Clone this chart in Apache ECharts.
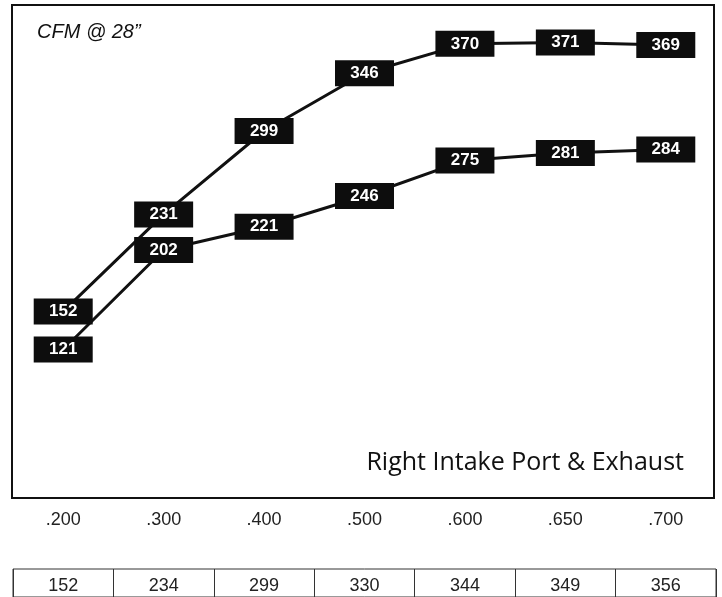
<!DOCTYPE html>
<html>
<head>
<meta charset="utf-8">
<title>CFM @ 28"</title>
<script src="https://cdn.jsdelivr.net/npm/echarts@6/dist/echarts.min.js"></script>
<style>
  html, body { margin: 0; padding: 0; background: #fff; }
  #chart { width: 722px; height: 597px; }
</style>
</head>
<body>
<div id="chart"></div>
<script>
// Valve lift points (inches)
const liftLabels = ['.200', '.300', '.400', '.500', '.600', '.650', '.700'];
// Intake port flow, CFM @ 28"
const intakeFlow = [152, 231, 299, 346, 370, 371, 369];
// Exhaust port flow, CFM @ 28"
const exhaustFlow = [121, 202, 221, 246, 275, 281, 284];
// Reference row under the chart
const tableValues = [152, 234, 299, 330, 344, 349, 356];

const ink = '#111';
const labelBox = {
  type: 'scatter',
  symbol: 'rect',
  symbolSize: [59, 26],
  itemStyle: { color: '#0d0d0d', opacity: 1 },
  z: 5,
  label: {
    show: true,
    position: 'inside',
    color: '#fff',
    fontFamily: 'Liberation Sans, Arial, sans-serif',
    fontWeight: 'bold',
    fontSize: 17,
    formatter: p => String(p.value)
  },
  emphasis: { disabled: true }
};
const flowLine = {
  type: 'line',
  symbol: 'none',
  z: 2,
  lineStyle: { color: ink, width: 3 },
  emphasis: { disabled: true }
};

const chart = echarts.init(document.getElementById('chart'));
chart.setOption({
  animation: false,
  backgroundColor: '#fff',
  title: {
    text: 'CFM @ 28\u201d',
    left: 37,
    top: 22,
    padding: 0,
    textStyle: {
      fontFamily: 'Liberation Sans, Arial, sans-serif',
      fontStyle: 'italic',
      fontWeight: 'normal',
      fontSize: 20,
      color: ink
    }
  },
  grid: [
    { left: 13, right: 6, top: 7, bottom: 99 },
    { left: 13, right: 6, top: 569, height: 34, show: true, borderColor: '#333', borderWidth: 1 }
  ],
  xAxis: [
    {
      type: 'category',
      gridIndex: 0,
      data: liftLabels,
      axisLine: { show: false },
      axisTick: { show: false },
      axisLabel: {
        color: '#222',
        fontSize: 18,
        margin: 13,
        fontFamily: 'Liberation Sans, Arial, sans-serif'
      }
    },
    {
      type: 'category',
      gridIndex: 1,
      position: 'top',
      data: tableValues.map(String),
      axisLine: { show: false },
      axisTick: { show: false },
      axisLabel: {
        inside: true,
        interval: 0,
        color: '#222',
        fontSize: 18,
        margin: 8,
        fontFamily: 'Liberation Sans, Arial, sans-serif'
      },
      splitLine: { show: true, interval: 0, lineStyle: { color: '#333', width: 1 } }
    }
  ],
  yAxis: [
    { type: 'value', gridIndex: 0, min: 0, max: 400, show: false },
    { type: 'value', gridIndex: 1, show: false }
  ],
  graphic: [
    {
      type: 'rect',
      shape: { x: 12, y: 5, width: 702, height: 493 },
      style: { fill: 'none', stroke: ink, lineWidth: 2 },
      z: 1
    },
    {
      type: 'text',
      style: {
        x: 684,
        y: 463,
        text: 'Right Intake Port & Exhaust',
        font: '25px "Open Sans", sans-serif',
        fill: ink,
        align: 'right',
        verticalAlign: 'middle'
      },
      z: 1
    }
  ],
  series: [
    Object.assign({}, flowLine, { name: 'Intake', data: intakeFlow }),
    Object.assign({}, flowLine, { name: 'Exhaust', data: exhaustFlow }),
    Object.assign({}, labelBox, { name: 'Intake values', data: intakeFlow }),
    Object.assign({}, labelBox, { name: 'Exhaust values', data: exhaustFlow })
  ]
});
</script>
</body>
</html>
